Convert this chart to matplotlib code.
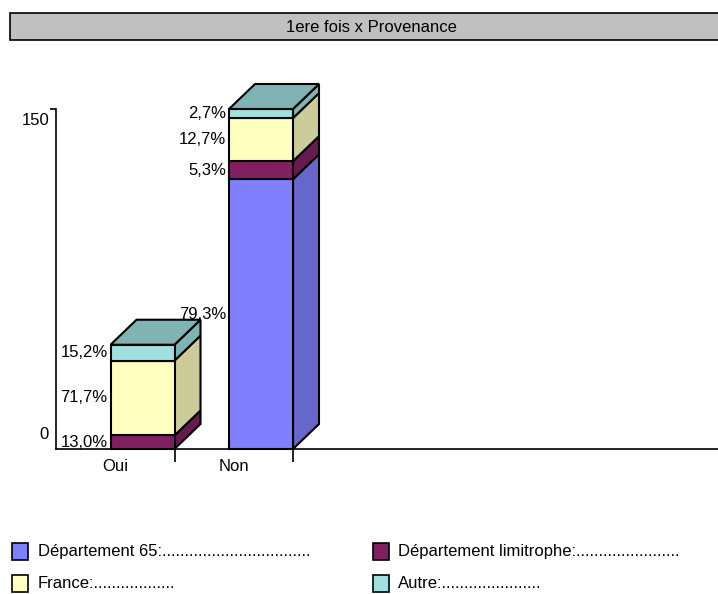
import matplotlib
matplotlib.use("Agg")
import matplotlib.pyplot as plt
from matplotlib.patches import Polygon, Rectangle
from matplotlib.transforms import ScaledTranslation

plt.rcParams["font.family"] = ["Liberation Sans", "DejaVu Sans"]

# data
title = "1ere fois x Provenance"
categories = ["Oui", "Non"]
series = ["Département 65", "Département limitrophe", "France", "Autre"]
dept65 = [0, 119]
limitrophe = [6, 8]
france = [33, 19]
autre = [7, 4]
y_ticks = [0, 150]

front_colors = ["#8080FF", "#802060", "#FFFFC0", "#A0E0E0"]
side_colors = ["#6666CC", "#661A4D", "#CCCC9A", "#80B3B3"]

W, H = 718, 594
fs = 12
fig = plt.figure(figsize=(W / 100, H / 100), dpi=100)
# plot area: y axis at x=56, baseline at y=449, value 150 at y=109
ax = fig.add_axes([56 / W, (H - 449) / H, 1 - 56 / W, (449 - 109) / H])
px_x = 118.5  # pixels per category
ax.set_xlim(0, (W - 56) / px_x)
ax.set_ylim(0, 150)

dx = 26 / px_x
dy = 25 * 150 / 340
bar_l, bar_r = 0.46, 1.0

stack = [dept65, limitrophe, france, autre]
for i, cat in enumerate(categories):
    total = sum(s[i] for s in stack)
    x0, x1 = i + bar_l, i + bar_r
    bottom = 0
    segs = []
    for k, s in enumerate(stack):
        v = s[i]
        if v <= 0:
            continue
        segs.append((k, bottom, bottom + v))
        bottom += v
    for n, (k, b, t) in enumerate(segs):
        side = Polygon([(x1, b), (x1 + dx, b + dy), (x1 + dx, t + dy), (x1, t)],
                       closed=True, fc=side_colors[k], ec="black", lw=1.5,
                       clip_on=False, zorder=3)
        ax.add_patch(side)
        front = Rectangle((x0, b), x1 - x0, t - b, fc=front_colors[k],
                          ec="black", lw=1.5, clip_on=False, zorder=4)
        ax.add_patch(front)
        if n == len(segs) - 1:
            top = Polygon([(x0, t), (x0 + dx, t + dy), (x1 + dx, t + dy), (x1, t)],
                          closed=True, fc=side_colors[k], ec="black", lw=1.5,
                          clip_on=False, zorder=4)
            ax.add_patch(top)
        pct = f"{100 * (t - b) / total:.1f}%".replace(".", ",")
        ax.text(x0 - 0.025, (b + t) / 2, pct, ha="right", va="center",
                fontsize=fs, zorder=5, clip_on=False)

# axes styling
for sp in ["top", "right"]:
    ax.spines[sp].set_visible(False)
ax.spines["left"].set_linewidth(1.2)
ax.spines["bottom"].set_linewidth(1.2)
ax.set_yticks(y_ticks, [str(v) for v in y_ticks], fontsize=fs)
ax.tick_params(axis="y", length=4, width=1.2, pad=1)
ax.yaxis.get_major_ticks()[0].tick1line.set_visible(False)
for lab, off in zip(ax.get_yticklabels(), [16, -10]):
    lab.set_transform(lab.get_transform() + ScaledTranslation(0, off / 100, fig.dpi_scale_trans))

ax.set_xticks([i + 0.5 for i in range(len(categories))], categories, fontsize=fs)
ax.set_xticks([i + 1 for i in range(len(categories))], minor=True)
ax.tick_params(axis="x", which="major", length=0, pad=7)
ax.tick_params(axis="x", which="minor", length=9, width=1.2)

# title bar
fig.patches.append(Rectangle((10 / W, 1 - 40 / H), 1, 27 / H, transform=fig.transFigure,
                             fc="#C0C0C0", ec="black", lw=1.2))
fig.text(371 / W, 1 - 27 / H, title, ha="center", va="center", fontsize=fs)

# legend
dots = ["." * 33, "." * 23, "." * 18, "." * 22]
leg_pos = [(12, 543, 38), (373, 543, 398), (12, 575, 38), (373, 575, 398)]
for k, name in enumerate(series):
    sx, sy, tx = leg_pos[k]
    fig.patches.append(Rectangle((sx / W, 1 - (sy + 17) / H), 16 / W, 17 / H,
                                 transform=fig.transFigure, fc=front_colors[k],
                                 ec="black", lw=1.2))
    fig.text(tx / W, 1 - (sy + 8.5) / H, name + ":" + dots[k], ha="left",
             va="center", fontsize=fs)

fig.savefig("out.png", dpi=100)
